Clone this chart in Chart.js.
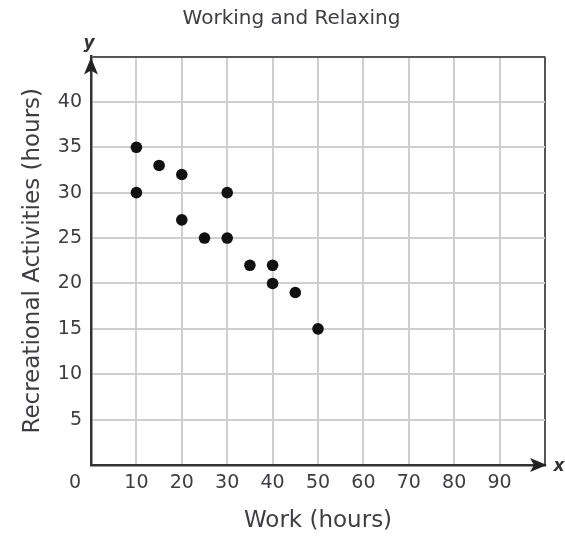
<!DOCTYPE html>
<html>
<head>
<meta charset="utf-8">
<script src="https://cdn.jsdelivr.net/npm/chart.js@4/dist/chart.umd.min.js"></script>
<style>
  html, body { margin: 0; padding: 0; background: #fff; }
  #wrap { width: 565px; height: 536px; }
</style>
</head>
<body>
<div id="wrap"><canvas id="c" width="565" height="536"></canvas></div>
<script>
// Hours spent at work vs. hours spent on recreation
const workHours       = [10, 10, 15, 20, 20, 25, 30, 30, 35, 40, 40, 45, 50];
const recreationHours = [35, 30, 33, 32, 27, 25, 30, 25, 22, 22, 20, 19, 15];

const xTickValues = [10, 20, 30, 40, 50, 60, 70, 80, 90];
const yTickValues = [5, 10, 15, 20, 25, 30, 35, 40];

const FONT = "'DejaVu Sans', Verdana, sans-serif";
const TEXT = '#3d3d42';

const points = workHours.map((x, i) => ({ x: x, y: recreationHours[i] }));

// Axis arrows, the axis letters and the shared origin label
const axisDecor = {
  id: 'axisDecor',
  afterDraw(chart) {
    const { ctx, scales: { x, y } } = chart;
    const ox = x.getPixelForValue(0);
    const oy = y.getPixelForValue(0);
    const topY = y.getPixelForValue(45);
    const rightX = x.getPixelForValue(100);
    ctx.save();
    ctx.fillStyle = '#222';
    // arrow on top of the vertical axis
    ctx.beginPath();
    ctx.moveTo(ox, topY + 1);
    ctx.lineTo(ox + 7, topY + 18);
    ctx.lineTo(ox, topY + 14);
    ctx.lineTo(ox - 7, topY + 18);
    ctx.closePath();
    ctx.fill();
    // arrow at the end of the horizontal axis
    ctx.beginPath();
    ctx.moveTo(rightX + 2, oy);
    ctx.lineTo(rightX - 15, oy - 7);
    ctx.lineTo(rightX - 11, oy);
    ctx.lineTo(rightX - 15, oy + 7);
    ctx.closePath();
    ctx.fill();
    // axis letters
    ctx.font = 'italic bold 17px ' + FONT;
    ctx.fillStyle = '#333';
    ctx.textAlign = 'center';
    ctx.textBaseline = 'middle';
    ctx.fillText('y', ox - 2, topY - 13);
    ctx.fillText('x', rightX + 14, oy + 2);
    // origin label
    ctx.font = '19px ' + FONT;
    ctx.fillStyle = TEXT;
    ctx.fillText('0', ox - 16, oy + 18);
    ctx.restore();
  }
};

new Chart(document.getElementById('c'), {
  type: 'scatter',
  data: {
    datasets: [{
      data: points,
      backgroundColor: '#111',
      borderWidth: 0,
      pointRadius: 5.8,
      pointHoverRadius: 5.8
    }]
  },
  options: {
    responsive: false,
    animation: false,
    layout: { padding: { left: 38, right: 20, top: 0, bottom: 0 } },
    plugins: {
      legend: { display: false },
      tooltip: { enabled: false },
      title: {
        display: true,
        text: 'Working and Relaxing',
        color: TEXT,
        font: { family: FONT, size: 20, weight: 'normal' },
        padding: { top: 6.5, bottom: 26 }
      }
    },
    scales: {
      x: {
        type: 'linear',
        min: 0,
        max: 100,
        afterFit(scale) { scale.height = 71; },
        afterBuildTicks(scale) {
          scale.ticks = [0, ...xTickValues, 100].map(v => ({ value: v }));
        },
        ticks: {
          padding: 7,
          color: TEXT,
          font: { family: FONT, size: 19 },
          maxRotation: 0,
          autoSkip: false,
          callback: v => xTickValues.includes(v) ? String(v) : ''
        },
        grid: {
          drawTicks: false,
          color: ctx => ctx.tick && ctx.tick.value === 100 ? '#555' : '#cfcfcf',
          lineWidth: 2
        },
        border: { display: true, color: '#333', width: 2.5 },
        title: {
          display: true,
          text: 'Work (hours)',
          color: TEXT,
          font: { family: FONT, size: 23 },
          padding: { top: 0, bottom: 0.7 }
        }
      },
      y: {
        type: 'linear',
        min: 0,
        max: 45,
        afterFit(scale) { scale.width = 53; },
        afterBuildTicks(scale) {
          scale.ticks = [0, ...yTickValues, 45].map(v => ({ value: v }));
        },
        ticks: {
          padding: 9,
          color: TEXT,
          font: { family: FONT, size: 19 },
          autoSkip: false,
          callback: v => yTickValues.includes(v) ? String(v) : ''
        },
        grid: {
          drawTicks: false,
          color: ctx => ctx.tick && ctx.tick.value === 45 ? '#555' : '#cfcfcf',
          lineWidth: 2
        },
        border: { display: true, color: '#333', width: 2.5 },
        title: {
          display: true,
          text: 'Recreational Activities (hours)',
          color: TEXT,
          font: { family: FONT, size: 23 },
          padding: { top: -18.8, bottom: 0 }
        }
      }
    }
  },
  plugins: [axisDecor]
});
</script>
</body>
</html>
